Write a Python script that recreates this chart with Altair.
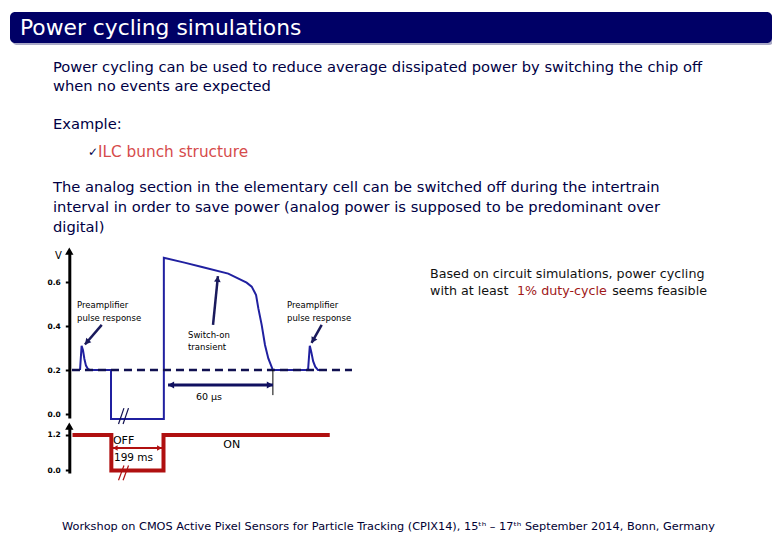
import math
import altair as alt
import pandas as pd

# ---------------- data ----------------
# Simulated front-end voltage (time in µs relative to switch-on, volts)
trace_t = [-49.7, -48.8, -48.0, -47.2, -46.3, -45.2, -44.0, -32.0, -32.0, -1.8, -1.8,
           10.0, 20.0, 35.0, 45.5, 48.4, 50.9, 52.2, 54.1, 56.0, 57.9, 60.5,
           80.6, 81.6, 82.5, 83.5, 84.7, 86.3, 88.0]
trace_v = [0.20, 0.31, 0.29, 0.25, 0.22, 0.205, 0.20, 0.20, -0.023, -0.023, 0.71,
           0.688, 0.668, 0.638, 0.597, 0.579, 0.541, 0.48, 0.405, 0.314, 0.253, 0.20,
           0.20, 0.31, 0.28, 0.24, 0.215, 0.20, 0.20]
baseline_t = [-54.3, 105.7]
baseline_v = [0.2, 0.2]
# power-control signal
ctrl_t = [-54.0, -31.8, -31.8, -2.0, -2.0, 93.0]
ctrl_v = [1.2, 1.2, 0.0, 0.0, 1.2, 1.2]
# axis ticks
v_ticks = [0.0, 0.2, 0.4, 0.6]
c_ticks = [0.0, 1.2]
# 60 µs interval marker
interval_t = [0.6, 60.5]
interval_v = 0.132
# 199 ms off interval marker
off_t = [-31.3, -2.6]
off_c = 0.76

# ---------------- layout / style ----------------
FONT = "DejaVu Sans"
NAVY = "#000044"
O = 8  # page margin -> plot origin
X_SCALE = alt.Scale(domain=[-60, 110], range=[54, 351.5], nice=False, zero=False)
V_SCALE = alt.Scale(domain=[-0.018, 0.74], range=[410, 243.2], nice=False, zero=False)
C_SCALE = alt.Scale(domain=[-0.085, 1.5], range=[465, 418.1], nice=False, zero=False)
PX_T = 297.5 / 170.0
PX_V = 166.8 / 0.758
PX_C = 46.9 / 1.585
AXIS_X = 69.3 - O


def axis_cfg(values):
    return alt.Axis(orient="left", offset=-AXIS_X, values=values, format=".1f", title=None,
                    grid=False, domainColor="black", domainWidth=3, tickColor="black",
                    tickWidth=2, tickSize=4, labelFontSize=7.5, labelFont=FONT,
                    labelFontWeight="bold", labelColor="black", labelPadding=5)


def X():
    return alt.X("t:Q", scale=X_SCALE, axis=None)


def YV():
    return alt.Y("v:Q", scale=V_SCALE, axis=axis_cfg(v_ticks))


def YC():
    return alt.Y("c:Q", scale=C_SCALE, axis=axis_cfg(c_ticks))


def txt(s, x, y, size, color, align="left", weight="normal", baseline="middle"):
    return alt.Chart(pd.DataFrame({"s": [s]})).mark_text(
        align=align, baseline=baseline, fontSize=size, color=color, font=FONT,
        fontWeight=weight).encode(x=alt.value(x - O), y=alt.value(y - O), text="s:N")


def ptxt(s, t, val, ycol, yenc, size, color, align="left"):
    return alt.Chart(pd.DataFrame({"s": [s], "t": [t], ycol: [val]})).mark_text(
        align=align, baseline="middle", fontSize=size, color=color, font=FONT
    ).encode(x=X(), y=yenc(), text="s:N")


def arrow(p0, p1, ycol, yenc, pxy, color, width, size, heads=("end",)):
    (t0, a0), (t1, a1) = p0, p1
    dx = (t1 - t0) * PX_T
    dy = -(a1 - a0) * pxy
    L = math.hypot(dx, dy)
    ux, uy = dx / L, dy / L
    back = 3.0
    layers = [alt.Chart(pd.DataFrame({"t": [t0, t1], ycol: [a0, a1]})).mark_line(
        color=color, strokeWidth=width).encode(x=X(), y=yenc())]
    pts = []
    if "end" in heads:
        ang = math.degrees(math.atan2(ux, -uy)) % 360
        pts.append({"t": t1 - ux * back / PX_T, ycol: a1 + uy * back / pxy, "ang": ang})
    if "start" in heads:
        ang = math.degrees(math.atan2(-ux, uy)) % 360
        pts.append({"t": t0 + ux * back / PX_T, ycol: a0 - uy * back / pxy, "ang": ang})
    layers.append(alt.Chart(pd.DataFrame(pts)).mark_point(
        shape="triangle-up", filled=True, size=size, color=color, opacity=1
    ).encode(x=X(), y=yenc(), angle=alt.Angle("ang:Q", scale=None)))
    return layers


# ---------------- slide texts ----------------
bar_df = pd.DataFrame({"a": [0]})
shadow = alt.Chart(bar_df).mark_rect(cornerRadius=5, color="#a9a9c6").encode(
    x=alt.value(12 - O), x2=alt.value(774 - O), y=alt.value(14 - O), y2=alt.value(45 - O))
bar = alt.Chart(bar_df).mark_rect(cornerRadius=5, color="#000066").encode(
    x=alt.value(10 - O), x2=alt.value(772 - O), y=alt.value(12 - O), y2=alt.value(43 - O))

BODY = 14.7
slide = [
    shadow, bar,
    txt("Power cycling simulations", 20, 28, 21.8, "white"),
    txt("Power cycling can be used to reduce average dissipated power by switching the chip off", 53, 68, BODY, NAVY),
    txt("when no events are expected", 53, 87, BODY, NAVY),
    txt("Example:", 53, 125, BODY, NAVY),
    txt("\u2713", 88, 152, 12, NAVY),
    txt("ILC bunch structure", 98, 152, 15.3, "#d64b4b"),
    txt("The analog section in the elementary cell can be switched off during the intertrain", 53, 188, BODY, NAVY),
    txt("interval in order to save power (analog power is supposed to be predominant over", 53, 208, BODY, NAVY),
    txt("digital)", 53, 228, BODY, NAVY),
    txt("Based on circuit simulations, power cycling", 430, 274, 12.7, "#111111"),
    txt("with at least", 430, 291, 12.7, "#111111"),
    txt("1% duty-cycle", 517, 291, 12.7, "#a01818"),
    txt("seems feasible", 707, 291, 12.7, "#111111", align="right"),
    txt("Workshop on CMOS Active Pixel Sensors for Particle Tracking (CPIX14), 15\u1d57\u02b0 \u2013 17\u1d57\u02b0 September 2014, Bonn, Germany",
        62, 527, 11.3, "#000033"),
    txt("V", 55, 256, 10, "black"),
]

# ---------------- upper panel: voltage ----------------
trace_df = pd.DataFrame({"t": trace_t, "v": trace_v, "o": range(len(trace_t))})
base_df = pd.DataFrame({"t": baseline_t, "v": baseline_v})

upper = [
    alt.Chart(trace_df).mark_line(color="#2020a0", strokeWidth=2).encode(
        x=X(), y=YV(), order="o:Q"),
    alt.Chart(base_df).mark_line(color="#101050", strokeWidth=2.5, strokeDash=[8, 5]).encode(
        x=X(), y=YV()),
    alt.Chart(pd.DataFrame({"v": [0.74]})).mark_point(
        shape="triangle-up", filled=True, size=70, color="black", opacity=1).encode(
        x=alt.value(AXIS_X), y=YV()),
    alt.Chart(pd.DataFrame({"t": [60.5, 60.5], "v": [0.2, 0.086]})).mark_line(
        color="black", strokeWidth=1).encode(x=X(), y=YV()),
    alt.Chart(pd.DataFrame({"t": [-27.7, -24.6, -25.1, -22.0], "v": [-0.045, 0.027, -0.045, 0.027],
                            "g": [0, 0, 1, 1]})).mark_line(color="#101050", strokeWidth=1.2).encode(
        x=X(), y=YV(), detail="g:N"),
    ptxt("Preamplifier", -51.4, 0.495, "v", YV, 8.5, "black"),
    ptxt("pulse response", -51.4, 0.437, "v", YV, 8.5, "black"),
    ptxt("Switch-on", 12.0, 0.359, "v", YV, 8.5, "black"),
    ptxt("transient", 12.0, 0.305, "v", YV, 8.5, "black"),
    ptxt("Preamplifier", 68.6, 0.495, "v", YV, 8.5, "black"),
    ptxt("pulse response", 68.6, 0.437, "v", YV, 8.5, "black"),
    ptxt("60 \u00b5s", 24.0, 0.077, "v", YV, 9.5, "black", align="center"),
]
upper += arrow((-37.3, 0.405), (-46.9, 0.316), "v", YV, PX_V, "#1a1a5c", 2.5, 45)
upper += arrow((26.3, 0.405), (29.1, 0.627), "v", YV, PX_V, "#1a1a5c", 2.5, 45)
upper += arrow((88.4, 0.405), (82.6, 0.323), "v", YV, PX_V, "#1a1a5c", 2.5, 45)
upper += arrow((interval_t[0], interval_v), (interval_t[1], interval_v), "v", YV, PX_V,
               "#101060", 3, 50, heads=("start", "end"))

# ---------------- lower panel: control ----------------
ctrl_df = pd.DataFrame({"t": ctrl_t, "c": ctrl_v, "o": range(len(ctrl_t))})
lower = [
    alt.Chart(ctrl_df).mark_line(color="#b01010", strokeWidth=4).encode(
        x=X(), y=YC(), order="o:Q"),
    alt.Chart(pd.DataFrame({"c": [1.5]})).mark_point(
        shape="triangle-up", filled=True, size=70, color="black", opacity=1).encode(
        x=alt.value(AXIS_X), y=YC()),
    alt.Chart(pd.DataFrame({"t": [-27.7, -24.6, -25.1, -22.0], "c": [-0.33, 0.17, -0.33, 0.17],
                            "g": [0, 0, 1, 1]})).mark_line(color="#b01010", strokeWidth=1.2).encode(
        x=X(), y=YC(), detail="g:N"),
    ptxt("OFF", -30.9, 1.0, "c", YC, 11, "black"),
    ptxt("199 ms", -30.3, 0.42, "c", YC, 10.5, "black"),
    ptxt("ON", 37.0, 0.86, "c", YC, 11, "black", align="center"),
]
lower += arrow((off_t[0], off_c), (off_t[1], off_c), "c", YC, PX_C, "#b01010", 2, 30,
               heads=("start", "end"))

chart = alt.layer(
    alt.layer(*slide),
    alt.layer(*upper),
    alt.layer(*lower),
).resolve_scale(y="independent").properties(
    width=764, height=524, padding=0,
    autosize=alt.AutoSizeParams(type="none"),
    background="white",
).configure_view(stroke=None)

chart.save("out.html", embed_options={"renderer": "svg", "actions": False})
